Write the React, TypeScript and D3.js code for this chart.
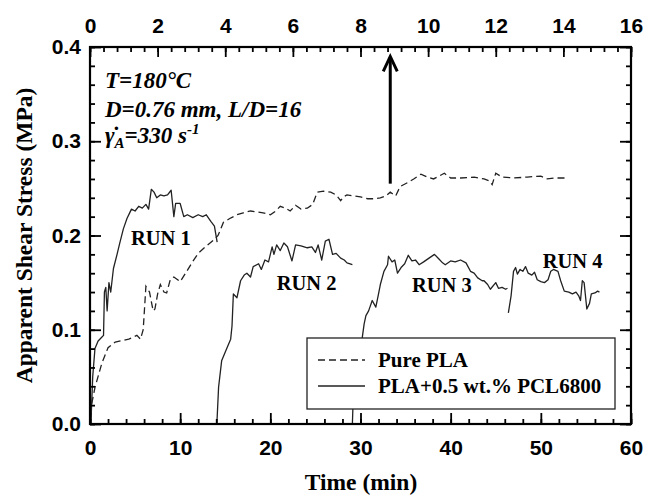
import React, { useRef, useEffect } from 'react';
import * as d3 from 'd3';

// time (min), apparent shear stress (MPa)
const purePLA = [
  [0.05, 0.01], [0.2, 0.022], [0.56, 0.039], [1.3, 0.064], [2.0, 0.081], [2.8, 0.087], [4.3, 0.09],
  [5.2, 0.094], [5.6, 0.09], [5.9, 0.1], [6.2, 0.146], [6.6, 0.14], [7.0, 0.12], [7.2, 0.122],
  [7.5, 0.138], [7.8, 0.148], [8.2, 0.14], [8.5, 0.139], [8.9, 0.153], [9.3, 0.156], [10.0, 0.151],
  [10.6, 0.16], [11.3, 0.171], [12.0, 0.181], [12.8, 0.188], [13.7, 0.195], [14.2, 0.2], [14.8, 0.214],
  [15.5, 0.218], [16.3, 0.222], [17.0, 0.224], [17.8, 0.226], [18.5, 0.225], [19.2, 0.224], [20.0, 0.222],
  [20.6, 0.226], [21.1, 0.231], [21.7, 0.229], [22.2, 0.226], [22.8, 0.232], [23.4, 0.228], [24.1, 0.229],
  [24.7, 0.233], [25.2, 0.246], [25.9, 0.247], [26.7, 0.246], [27.3, 0.243], [27.8, 0.237], [28.1, 0.241],
  [28.5, 0.243], [29.2, 0.242], [30.0, 0.241], [30.8, 0.239], [31.5, 0.239], [32.2, 0.24], [32.8, 0.242],
  [33.3, 0.246], [33.9, 0.242], [34.4, 0.252], [35.2, 0.256], [35.9, 0.26], [36.7, 0.265], [37.4, 0.262],
  [38.1, 0.26], [38.7, 0.263], [39.3, 0.266], [40.0, 0.261], [41.1, 0.261], [42.6, 0.262], [43.7, 0.26],
  [44.3, 0.258], [44.6, 0.254], [45.0, 0.266], [45.7, 0.262], [47.0, 0.261], [48.5, 0.262], [50.0, 0.263],
  [50.7, 0.26], [51.5, 0.261], [52.8, 0.261],
];

const run1 = [
  [0.1, 0.0], [0.3, 0.05], [0.55, 0.08], [0.9, 0.088], [1.3, 0.092], [1.5, 0.094], [1.6, 0.14],
  [1.75, 0.145], [1.9, 0.12], [2.1, 0.15], [2.3, 0.14], [2.6, 0.165], [3.0, 0.18], [3.3, 0.192],
  [3.7, 0.207], [4.1, 0.218], [4.4, 0.224], [4.6, 0.228], [5.0, 0.226], [5.4, 0.231], [5.8, 0.229],
  [6.2, 0.233], [6.5, 0.228], [6.8, 0.249], [7.1, 0.246], [7.4, 0.24], [7.8, 0.243], [8.2, 0.242],
  [8.6, 0.243], [9.0, 0.248], [9.3, 0.22], [9.5, 0.234], [10.0, 0.234], [10.4, 0.22], [10.8, 0.222],
  [11.4, 0.219], [12.0, 0.222], [12.5, 0.22], [12.9, 0.222], [13.4, 0.215], [13.8, 0.21], [14.1, 0.193],
];

const run2 = [
  [14.07, 0.0], [14.26, 0.039], [14.6, 0.067], [15.2, 0.081], [15.6, 0.09], [15.75, 0.104], [15.9, 0.138],
  [16.3, 0.134], [16.7, 0.152], [17.1, 0.158], [17.4, 0.16], [17.8, 0.156], [18.1, 0.167], [18.7, 0.17],
  [19.0, 0.164], [19.4, 0.174], [19.8, 0.172], [20.2, 0.188], [20.4, 0.18], [20.7, 0.19], [21.1, 0.184],
  [21.5, 0.192], [21.9, 0.188], [22.4, 0.173], [22.8, 0.19], [23.4, 0.189], [24.1, 0.187], [24.6, 0.188],
  [25.0, 0.182], [25.3, 0.19], [25.7, 0.174], [26.1, 0.194], [26.5, 0.196], [26.9, 0.18], [27.3, 0.181],
  [27.8, 0.176], [28.2, 0.174], [28.5, 0.171], [29.1, 0.169],
];

const run3 = [
  [29.1, 0.0], [29.2, 0.03], [29.9, 0.075], [30.2, 0.092], [30.4, 0.106], [30.6, 0.115], [30.9, 0.12],
  [31.3, 0.131], [31.7, 0.124], [32.0, 0.138], [32.2, 0.148], [32.6, 0.162], [33.0, 0.169], [33.1, 0.178],
  [33.5, 0.172], [33.8, 0.174], [34.1, 0.16], [34.5, 0.166], [34.9, 0.17], [35.3, 0.179], [35.7, 0.173],
  [36.1, 0.174], [36.5, 0.169], [37.0, 0.172], [37.6, 0.176], [38.2, 0.18], [38.7, 0.175], [39.1, 0.171],
  [39.4, 0.169], [40.0, 0.173], [40.5, 0.172], [41.1, 0.174], [41.7, 0.171], [42.2, 0.162], [42.6, 0.16],
  [43.0, 0.155], [43.5, 0.152], [43.7, 0.152], [44.1, 0.148], [44.4, 0.143], [45.0, 0.15], [45.3, 0.144],
  [45.7, 0.145], [46.1, 0.143], [46.3, 0.144],
];

const run4 = [
  [46.4, 0.118], [46.7, 0.136], [46.97, 0.162], [47.2, 0.166], [47.4, 0.159], [47.7, 0.164], [48.0, 0.162],
  [48.3, 0.167], [48.6, 0.16], [49.0, 0.158], [49.3, 0.161], [49.6, 0.153], [50.0, 0.151], [50.4, 0.15],
  [50.8, 0.153], [51.1, 0.162], [51.4, 0.164], [51.9, 0.162], [52.2, 0.152], [52.6, 0.141], [53.1, 0.14],
  [53.5, 0.138], [53.9, 0.14], [54.2, 0.136], [54.4, 0.131], [54.6, 0.152], [54.8, 0.15], [55.1, 0.122],
  [55.4, 0.128], [55.6, 0.138], [56.0, 0.139], [56.3, 0.141], [56.5, 0.14],
];

const bottomTicks = [0, 10, 20, 30, 40, 50, 60];
const bottomMinor = d3.range(0, 61, 2);
const topTicks = [0, 2, 4, 6, 8, 10, 12, 14, 16];
const topMinor = d3.range(0, 16.01, 0.4);
const leftTicks = [0, 0.1, 0.2, 0.3, 0.4];
const leftMinor = d3.range(0, 0.401, 0.02);

const runLabels = [
  { text: 'RUN 1', t: 4.55, s: 0.19 },
  { text: 'RUN 2', t: 20.7, s: 0.142 },
  { text: 'RUN 3', t: 35.7, s: 0.14 },
  { text: 'RUN 4', t: 50.2, s: 0.166 },
];

const legendItems = [
  { label: 'Pure PLA', dash: '7,4' },
  { label: 'PLA+0.5 wt.% PCL6800', dash: null },
];

const arrowTime = 33.3;
const arrowFrom = 0.255;
const arrowTo = 0.39;

const SANS = '"Liberation Sans", Arial, sans-serif';
const SERIF = '"Liberation Serif", "Times New Roman", serif';

const ShearChart = () => {
  const ref = useRef(null);

  useEffect(() => {
    d3.select(ref.current).selectAll('*').remove();

    const width = 646, height = 498;
    const margin = { top: 47, right: 15, bottom: 74, left: 90 };
    const w = width - margin.left - margin.right;
    const h = height - margin.top - margin.bottom;

    const svg = d3.select(ref.current).attr('width', width).attr('height', height);
    const g = svg.append('g').attr('transform', `translate(${margin.left},${margin.top})`);

    const x = d3.scaleLinear().domain([0, 60]).range([0, w]);
    const xTop = d3.scaleLinear().domain([0, 16]).range([0, w]);
    const y = d3.scaleLinear().domain([0, 0.4]).range([h, 0]);

    const line = d3.line().x(d => x(d[0])).y(d => y(d[1]));

    // curves
    g.append('path').datum(purePLA)
      .attr('fill', 'none').attr('stroke', '#222').attr('stroke-width', 1.3)
      .attr('stroke-dasharray', '7,4').attr('d', line);

    [run1, run2, run3, run4].forEach(run => {
      g.append('path').datum(run)
        .attr('fill', 'none').attr('stroke', '#222').attr('stroke-width', 1.3)
        .attr('stroke-linejoin', 'round').attr('d', line);
    });

    // axes (ticks point inward)
    const styleAxis = (sel, size) => {
      sel.select('.domain').remove();
      sel.selectAll('line').attr('stroke', '#000').attr('stroke-width', 1.8);
      sel.selectAll('text').attr('font-family', SANS).attr('font-weight', 'bold')
        .attr('font-size', size).attr('fill', '#000');
    };

    g.append('g').attr('transform', `translate(0,${h})`)
      .call(d3.axisBottom(x).tickValues(bottomMinor).tickSize(-5).tickFormat(() => ''))
      .call(s => styleAxis(s, 21));
    g.append('g').attr('transform', `translate(0,${h})`)
      .call(d3.axisBottom(x).tickValues(bottomTicks).tickSize(-11).tickPadding(16).tickFormat(d3.format('d')))
      .call(s => styleAxis(s, 21));

    g.append('g')
      .call(d3.axisTop(xTop).tickValues(topMinor).tickSize(-5).tickFormat(() => ''))
      .call(s => styleAxis(s, 21));
    g.append('g')
      .call(d3.axisTop(xTop).tickValues(topTicks).tickSize(-10).tickPadding(14).tickFormat(d3.format('d')))
      .call(s => styleAxis(s, 21));

    g.append('g')
      .call(d3.axisLeft(y).tickValues(leftMinor).tickSize(-5).tickFormat(() => ''))
      .call(s => styleAxis(s, 21));
    g.append('g')
      .call(d3.axisLeft(y).tickValues(leftTicks).tickSize(-11).tickPadding(9).tickFormat(d3.format('.1f')))
      .call(s => styleAxis(s, 21));

    g.append('g').attr('transform', `translate(${w},0)`)
      .call(d3.axisRight(y).tickValues(leftMinor).tickSize(-5).tickFormat(() => ''))
      .call(s => styleAxis(s, 21));
    g.append('g').attr('transform', `translate(${w},0)`)
      .call(d3.axisRight(y).tickValues(leftTicks).tickSize(-11).tickFormat(() => ''))
      .call(s => styleAxis(s, 21));

    // frame
    g.append('rect').attr('width', w).attr('height', h)
      .attr('fill', 'none').attr('stroke', '#000').attr('stroke-width', 2.2);

    // axis titles
    svg.append('text')
      .attr('transform', `translate(32,${margin.top + h / 2}) rotate(-90)`)
      .attr('text-anchor', 'middle')
      .attr('font-family', SERIF).attr('font-weight', 'bold').attr('font-size', 23.5)
      .text('Apparent Shear Stress (MPa)');
    svg.append('text')
      .attr('x', 361).attr('y', 490)
      .attr('text-anchor', 'middle')
      .attr('font-family', SERIF).attr('font-weight', 'bold').attr('font-size', 23.5)
      .text('Time (min)');

    // run labels
    g.selectAll('.run').data(runLabels).enter().append('text')
      .attr('x', d => x(d.t)).attr('y', d => y(d.s))
      .attr('font-family', SERIF).attr('font-weight', 'bold').attr('font-size', 20.5)
      .text(d => d.text);

    // arrow
    const ax = x(arrowTime), ay1 = y(arrowFrom), ay2 = y(arrowTo);
    g.append('line').attr('x1', ax).attr('x2', ax).attr('y1', ay1).attr('y2', ay2 + 1)
      .attr('stroke', '#000').attr('stroke-width', 3);
    g.append('path')
      .attr('d', `M${ax - 7},${ay2 + 15} L${ax},${ay2} L${ax + 7},${ay2 + 15}`)
      .attr('fill', 'none').attr('stroke', '#000').attr('stroke-width', 3);

    // condition annotation
    const ann = svg.append('g')
      .attr('font-family', SERIF).attr('font-weight', 'bold').attr('font-style', 'italic').attr('font-size', 23);
    ann.append('text').attr('x', 105).attr('y', 88).text('T=180°C');
    ann.append('text').attr('x', 105).attr('y', 117).text('D=0.76 mm, L/D=16');
    const g3 = ann.append('text').attr('x', 105).attr('y', 143);
    g3.append('tspan').text('\u03B3\u0307');
    g3.append('tspan').attr('font-size', 15).attr('dy', 5).text('A');
    g3.append('tspan').attr('dy', -5).text('=330 s');
    g3.append('tspan').attr('font-size', 15).attr('dy', -9).text('-1');

    // legend
    const leg = svg.append('g').attr('transform', 'translate(307,338)');
    leg.append('rect').attr('width', 308).attr('height', 71)
      .attr('fill', '#fff').attr('stroke', '#222').attr('stroke-width', 1.3);
    legendItems.forEach((item, i) => {
      const yy = 22 + i * 26;
      leg.append('line').attr('x1', 11).attr('x2', 58).attr('y1', yy).attr('y2', yy)
        .attr('stroke', '#222').attr('stroke-width', 1.3)
        .attr('stroke-dasharray', item.dash);
      leg.append('text').attr('x', 71).attr('y', yy + 7)
        .attr('font-family', SERIF).attr('font-weight', 'bold').attr('font-size', 21)
        .text(item.label);
    });
  }, []);

  return <svg ref={ref} style={{ position: 'absolute', left: 0, top: 0 }}></svg>;
};

export default function App() {
  return <ShearChart />;
}
